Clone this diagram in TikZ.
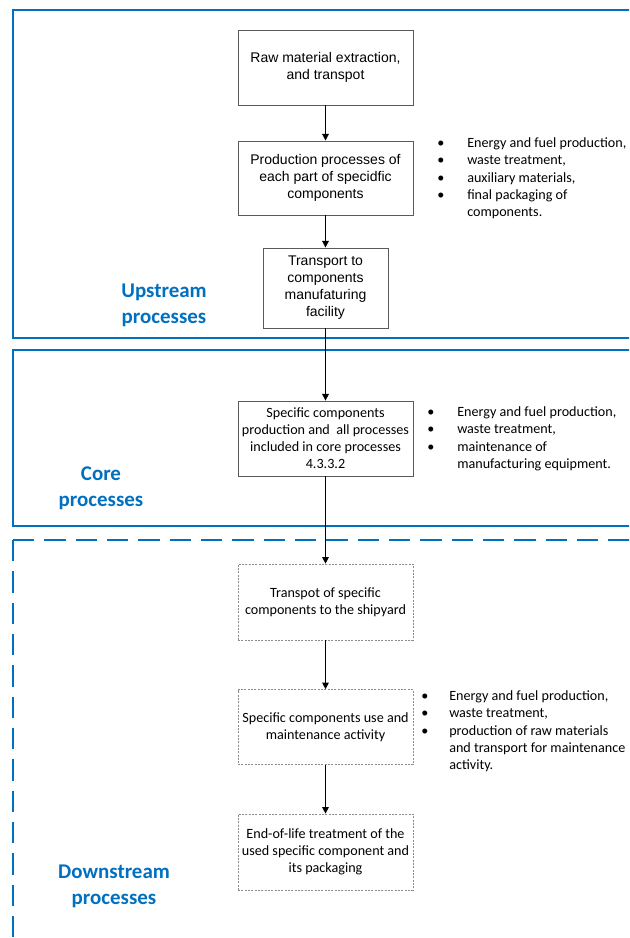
\documentclass[tikz,border=0pt]{standalone}
\usepackage{fontspec}
\setmainfont{Carlito}
\newfontfamily\arialf{Liberation Sans}
\usetikzlibrary{arrows.meta}
\definecolor{frameblue}{RGB}{0,112,192}
\definecolor{boxgray}{RGB}{90,90,90}
\tikzset{
  frame/.style={draw=frameblue, line width=2.2pt},
  dframe/.style={frame, dash pattern=on 16pt off 7.5pt},
  sbox/.style={draw=boxgray, line width=0.7pt, align=center, inner sep=1pt,
     font=\arialf\fontsize{10.5}{12.8}\selectfont},
  dbox/.style={draw=boxgray!70, line width=0.5pt, dash pattern=on 1.5pt off 1pt, align=center, inner sep=1pt,
     font=\fontsize{10.6}{12.8}\selectfont},
  arr/.style={-{Triangle[length=5pt,width=5pt]}, line width=0.8pt, black},
  lbl/.style={text=frameblue, align=center, font=\bfseries\fontsize{15.7}{19.5}\selectfont},
  blist/.style={anchor=north west, inner sep=0pt, align=left, font=\fontsize{10.6}{13}\selectfont},
}
\begin{document}
\begin{tikzpicture}[x=0.75pt, y=-0.75pt]
\clip (0,0) rectangle (629,938);
\fill[white] (0,0) rectangle (629,938);
% frames
\draw[frame] (13,10) rectangle (660,338);
\draw[frame] (13,350) rectangle (660,526);
\draw[dframe] (13,540) -- (660,540);
\draw[dframe] (13,540) -- (13,960);
% boxes
\node[sbox, minimum width=131.25pt, minimum height=56.25pt] (raw) at (325.5,67.5) {Raw material extraction,\\and transpot};
\node[sbox, minimum width=131.25pt, minimum height=55.5pt] (prod) at (325.5,178) {Production processes of\\each part of specidfic\\components};
\node[sbox, minimum width=93.75pt, minimum height=60pt] (trans) at (325.5,288) {Transport to\\components\\manufaturing\\facility};
\node[dbox, draw=boxgray, dash pattern=, line width=0.6pt, minimum width=131.25pt, minimum height=56.25pt] (core) at (325.5,438.5) {Specific components\\production and \ all processes\\included in core processes\\4.3.3.2};
\node[dbox, minimum width=131.25pt, minimum height=57pt] (ship) at (325.5,602) {Transpot of specific\\components to the shipyard};
\node[dbox, minimum width=131.25pt, minimum height=56.25pt] (use) at (325.5,727) {Specific components use and\\maintenance activity};
\node[dbox, minimum width=131.25pt, minimum height=57pt] (eol) at (325.5,852) {End-of-life treatment of the\\used specific component and\\its packaging};
% arrows
\draw[arr] (raw) -- (prod);
\draw[arr] (prod) -- (trans);
\draw[arr] (trans) -- (core);
\draw[arr] (core) -- (ship);
\draw[arr] (ship) -- (use);
\draw[arr] (use) -- (eol);
% labels
\node[lbl] (lup) at (164,305) {Upstream\\processes};
\node[lbl] (lcore) at (101,488.5) {Core\\processes};
\node[lbl] (ldown) at (114,886) {Downstream\\processes};
% bullet lists
\node[blist] (l1) at (437,135) {\begin{tabular}{@{}p{22.5pt}@{}l@{}}
\textbullet & Energy and fuel production,\\
\textbullet & waste treatment,\\
\textbullet & auxiliary materials,\\
\textbullet & final packaging of\\
 & components.
\end{tabular}};
\node[blist] (l2) at (427,404) {\begin{tabular}{@{}p{22.5pt}@{}l@{}}
\textbullet & Energy and fuel production,\\
\textbullet & waste treatment,\\
\textbullet & maintenance of\\
 & manufacturing equipment.
\end{tabular}};
\node[blist] (l3) at (421,688) {\begin{tabular}{@{}p{21pt}@{}l@{}}
\textbullet & Energy and fuel production,\\
\textbullet & waste treatment,\\
\textbullet & production of raw materials\\
 & and transport for maintenance\\
 & activity.
\end{tabular}};
\end{tikzpicture}
\end{document}
